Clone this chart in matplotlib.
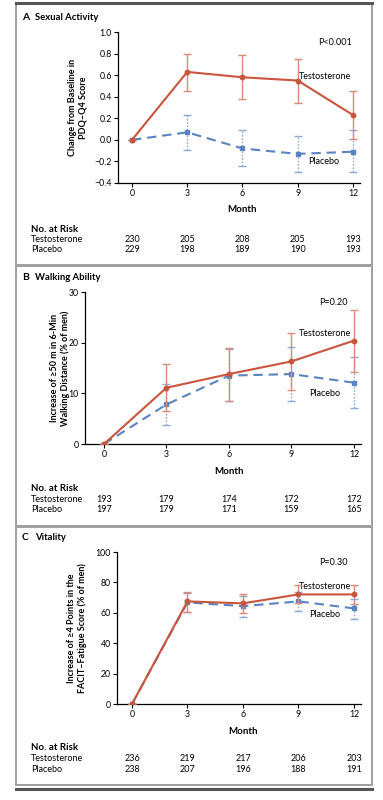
import matplotlib
matplotlib.use("Agg")
import matplotlib.pyplot as plt
from matplotlib.patches import Rectangle
from matplotlib.lines import Line2D
import matplotlib.transforms as mtrans

plt.rcParams['font.family'] = ['Lato', 'DejaVu Sans']

months = [0, 3, 6, 9, 12]

# --- A: Sexual activity ---
a_tes = [0.0, 0.63, 0.58, 0.55, 0.23]
a_tes_lo = [0.0, 0.45, 0.38, 0.34, 0.01]
a_tes_hi = [0.0, 0.80, 0.79, 0.75, 0.45]
a_pla = [0.0, 0.07, -0.08, -0.13, -0.11]
a_pla_lo = [0.0, -0.09, -0.24, -0.30, -0.30]
a_pla_hi = [0.0, 0.23, 0.09, 0.04, 0.09]
a_risk_tes = [230, 205, 208, 205, 193]
a_risk_pla = [229, 198, 189, 190, 193]

# --- B: Walking ability ---
b_tes = [0.0, 11.1, 13.8, 16.3, 20.4]
b_tes_lo = [0.0, 6.5, 8.4, 10.7, 14.3]
b_tes_hi = [0.0, 15.8, 18.9, 21.9, 26.4]
b_pla = [0.0, 7.8, 13.5, 13.8, 12.1]
b_pla_lo = [0.0, 3.8, 8.4, 8.4, 7.1]
b_pla_hi = [0.0, 11.8, 18.8, 19.2, 17.1]
b_risk_tes = [193, 179, 174, 172, 172]
b_risk_pla = [197, 179, 171, 159, 165]

# --- C: Vitality ---
c_tes = [0.0, 67.5, 66.2, 72.1, 72.1]
c_tes_lo = [0.0, 60.2, 60.0, 66.2, 65.7]
c_tes_hi = [0.0, 73.4, 72.3, 78.0, 78.5]
c_pla = [0.0, 66.8, 64.4, 67.5, 62.9]
c_pla_lo = [0.0, 60.4, 57.4, 60.9, 55.8]
c_pla_hi = [0.0, 73.0, 71.0, 74.0, 68.8]
c_risk_tes = [236, 219, 217, 206, 203]
c_risk_pla = [238, 207, 196, 188, 191]

RED = '#C9553C'
RED_L = '#DB8A78'
BLUE = '#5A83C2'
BLUE_L = '#8FAAD8'

W, H = 383, 800
fig = plt.figure(figsize=(W / 100, H / 100), dpi=100)


def fx(px):
    return px / W


def fy(py):
    return 1 - py / H


# panel frames and rules
for top, bot in [(3, 266), (265, 527), (526, 785)]:
    fig.patches.append(Rectangle((fx(16), fy(bot)), fx(372) - fx(16), fy(top) - fy(bot),
                                 transform=fig.transFigure, fill=False,
                                 edgecolor='#a0a0a0', lw=1.4))
for py in (3, 789):
    fig.lines.append(Line2D([fx(16), fx(372)], [fy(py), fy(py)], transform=fig.transFigure,
                            color='#555555', lw=2.2))


def panel(rect, xlim, ylim, yticks, yfmt, letter, title, title_y, ylabel, ylabel_x,
          tes, tes_lo, tes_hi, pla, pla_lo, pla_hi, risk_tes, risk_pla,
          pval, p_xy, t_xy, pl_xy, month_y, risk_y):
    ax = fig.add_axes(rect)
    # placebo
    ax.errorbar(months, pla, yerr=[[p - l for p, l in zip(pla, pla_lo)],
                                   [h - p for p, h in zip(pla, pla_hi)]],
                fmt='none', ecolor=BLUE_L, elinewidth=1.0, capsize=2.8, capthick=1.0,
                zorder=2)
    eb = ax.containers[-1]
    for lc in eb.lines[2]:
        lc.set_linestyle((0, (1.2, 1.2)))
    ax.plot(months, pla, color=BLUE, lw=1.5, dashes=(4.5, 2.8), marker='s', ms=3.2,
            mec=BLUE, mfc=BLUE, zorder=3)
    # testosterone
    ax.errorbar(months, tes, yerr=[[t - l for t, l in zip(tes, tes_lo)],
                                   [h - t for t, h in zip(tes, tes_hi)]],
                fmt='none', ecolor=RED_L, elinewidth=1.0, capsize=2.8, capthick=1.0,
                zorder=4)
    ax.plot(months, tes, color=RED, lw=1.5, marker='o', ms=3.2, zorder=5)

    ax.set_xlim(*xlim)
    ax.set_ylim(*ylim)
    ax.set_xticks(months)
    ax.set_yticks(yticks)
    ax.set_yticklabels([yfmt.format(v).replace('-', '\u2212') for v in yticks])
    for s in ('top', 'right'):
        ax.spines[s].set_visible(False)
    for s in ('left', 'bottom'):
        ax.spines[s].set_linewidth(0.9)
    ax.tick_params(direction='out', length=3, width=0.8, labelsize=6.3, pad=1.5)
    ax.patch.set_alpha(0)

    ax.text(p_xy[0], p_xy[1], pval, fontsize=6.5, ha='center', va='center')
    ax.text(t_xy[0], t_xy[1], 'Testosterone', fontsize=6.5, ha='left', va='center')
    ax.text(pl_xy[0], pl_xy[1], 'Placebo', fontsize=6.5, ha='left', va='center')

    fig.text(fx(22), fy(title_y), letter, fontsize=7.5, fontweight='bold', va='center')
    fig.text(fx(35), fy(title_y), title, fontsize=6.8, fontweight='bold', va='center')
    fig.text(fx(ylabel_x), rect[1] + rect[3] / 2, ylabel, fontsize=6.5, fontweight='bold',
             rotation=90, ha='center', va='center', linespacing=1.15)

    trans = mtrans.blended_transform_factory(ax.transData, fig.transFigure)
    ax.text(6, fy(month_y), 'Month', transform=trans, fontsize=7, fontweight='bold',
            ha='center', va='center')
    fig.text(fx(31), fy(risk_y), 'No. at Risk', fontsize=7, fontweight='bold', va='center')
    fig.text(fx(31), fy(risk_y + 10.5), 'Testosterone', fontsize=6.5, va='center')
    fig.text(fx(31), fy(risk_y + 21), 'Placebo', fontsize=6.5, va='center')
    for m, rt, rp in zip(months, risk_tes, risk_pla):
        ax.text(m, fy(risk_y + 10.5), str(rt), transform=trans, fontsize=6.5,
                ha='center', va='center')
        ax.text(m, fy(risk_y + 21), str(rp), transform=trans, fontsize=6.5,
                ha='center', va='center')
    return ax


panel([fx(118), fy(183), fx(360) - fx(118), fy(32) - fy(183)], (-0.76, 12.38), (-0.4, 1.0),
      [-0.4, -0.2, 0.0, 0.2, 0.4, 0.6, 0.8, 1.0], '{:.1f}', 'A', 'Sexual Activity', 17,
      'Change from Baseline in\nPDQ\u2013Q4 Score', 78,
      a_tes, a_tes_lo, a_tes_hi, a_pla, a_pla_lo, a_pla_hi, a_risk_tes, a_risk_pla,
      'P<0.001', (11.0, 0.907), (9.07, 0.585), (9.55, -0.205), 210, 229)

panel([fx(85), fy(444), fx(361) - fx(85), fy(292) - fy(444)], (-0.91, 12.34), (0, 30),
      [0, 10, 20, 30], '{:.0f}', 'B', 'Walking Ability', 277,
      'Increase of \u226550 m in 6-Min\nWalking Distance (% of men)', 60,
      b_tes, b_tes_lo, b_tes_hi, b_pla, b_pla_lo, b_pla_hi, b_risk_tes, b_risk_pla,
      'P=0.20', (11.0, 28.0), (9.36, 21.9), (9.84, 9.9), 471, 489)

panel([fx(117), fy(704), fx(361) - fx(117), fy(552) - fy(704)], (-0.81, 12.38), (0, 100),
      [0, 20, 40, 60, 80, 100], '{:.0f}', 'C', 'Vitality', 537,
      'Increase of \u22654 Points in the\nFACIT\u2013Fatigue Score (% of men)', 77,
      c_tes, c_tes_lo, c_tes_hi, c_pla, c_pla_lo, c_pla_hi, c_risk_tes, c_risk_pla,
      'P=0.30', (10.86, 93.4), (9.03, 77.6), (9.57, 59.2), 731, 748)

fig.savefig('out.png', dpi=100)
